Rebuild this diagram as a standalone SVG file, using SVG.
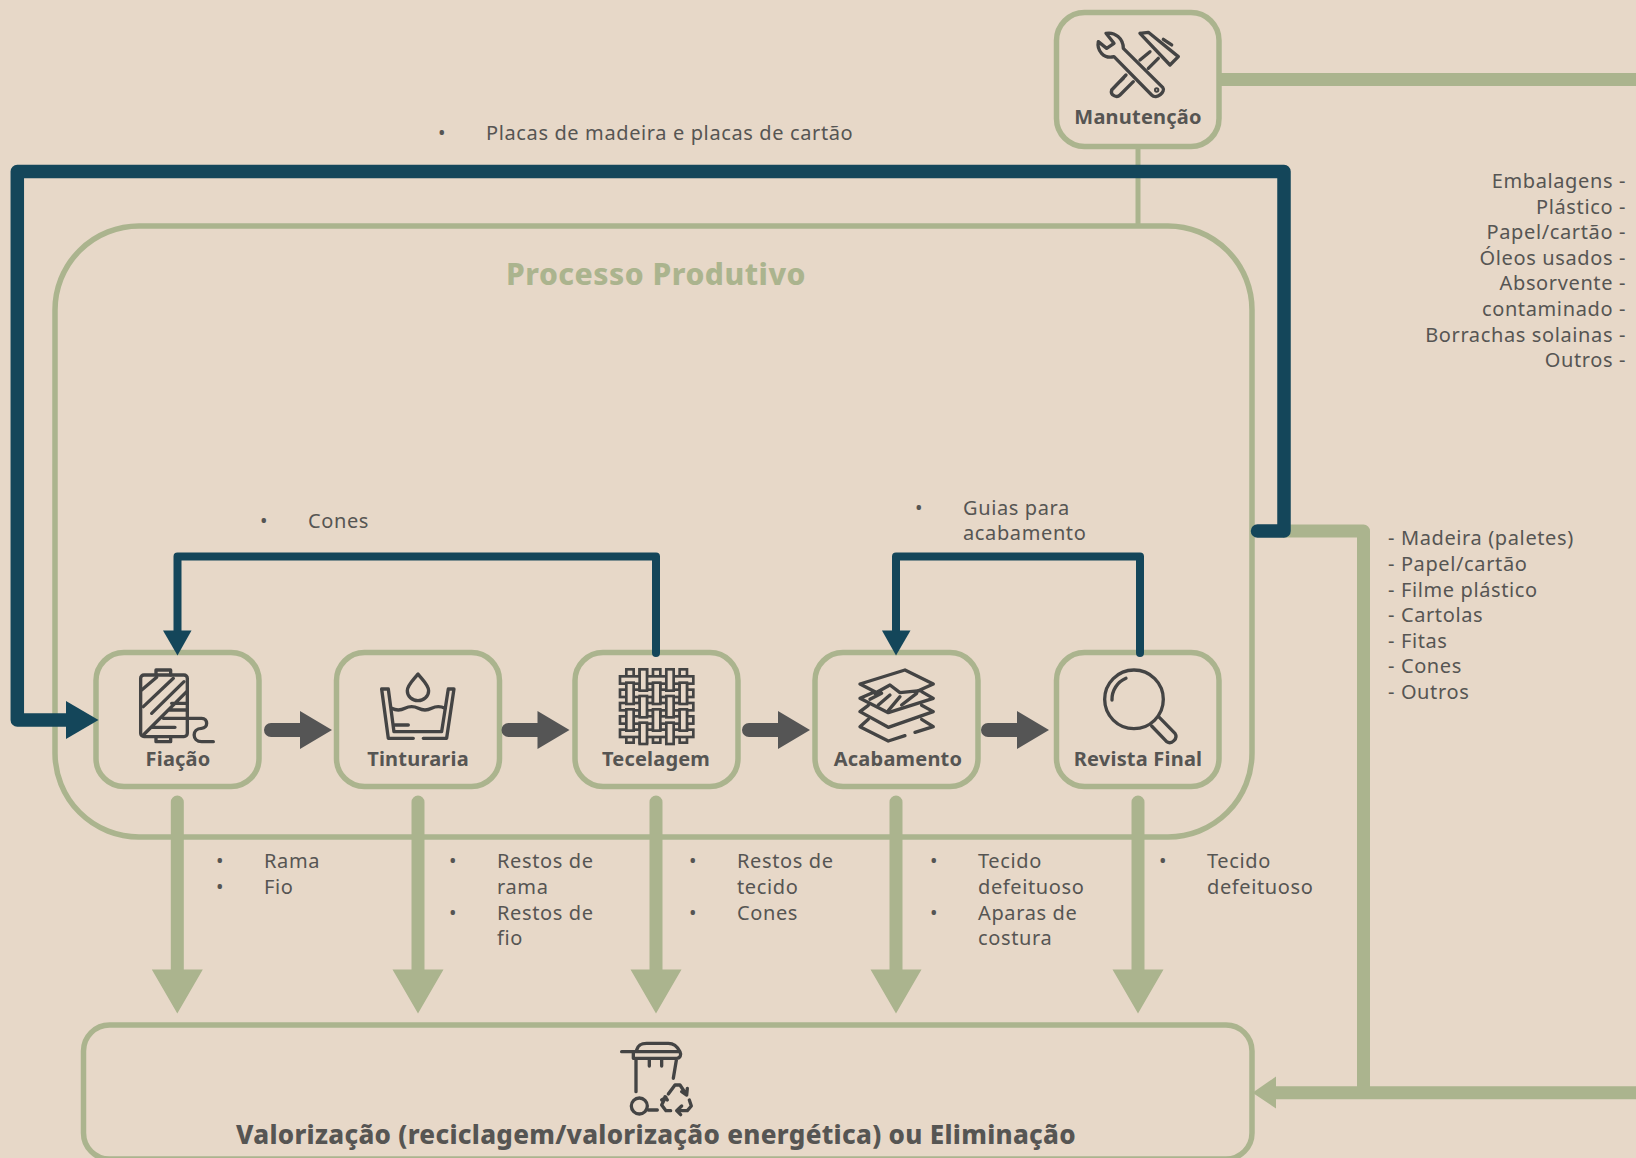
<svg xmlns="http://www.w3.org/2000/svg" width="1636" height="1158" viewBox="0 0 1636 1158">
<style>
text{font-family:"Noto Sans","Liberation Sans",sans-serif;fill:#565553}
.t{font-size:20px;letter-spacing:.62px}
.r{text-anchor:end}
.n{font-size:20px;font-weight:700;text-anchor:middle;letter-spacing:.2px}
.box{fill:none;stroke:#abb48e;stroke-width:5.5}
.i{fill:none;stroke:#444;stroke-width:10;stroke-linecap:round;stroke-linejoin:round}
.w{fill:#e7d8c8;stroke:#444;stroke-width:8}
.g{fill:none;stroke:#abb48e;stroke-linejoin:round}
.d{fill:none;stroke:#14465a;stroke-linejoin:round;stroke-linecap:round}
.gf{fill:#abb48e}.df{fill:#14465a}.kf{fill:#555}
</style>
<defs>
<path id="dn" class="gf" d="M-6.500,802a6.500,6.500 0 0 1 13,0V969.500H25.500L0,1013.500L-25.500,969.500H-6.500Z"/>
<g id="ga"><path class="kf" d="M6,-7H35V-19L67,0L35,19V7H6A7,7 0 0 1 6,-7Z"/></g>
<rect id="vb" class="w" x="-11" y="-32" width="22" height="64"/>
</defs>
<rect width="1636" height="1158" fill="#e7d8c8"/>

<g id="processo">
<rect class="box" x="55" y="226" width="1197" height="611" rx="84"/>
<text x="656" y="285" text-anchor="middle" font-size="30" font-weight="800" letter-spacing=".5" style="fill:#abb48e">Processo Produtivo</text>
</g>

<g id="manutencao">
<rect class="box" x="1056.500" y="12.500" width="162.500" height="134" rx="28"/>
<g transform="translate(1040,0) scale(.3333)">
<path class="i" d="M198,100C225,95 250,115 250,145L368,262C378,275 350,300 335,285L222,170C190,178 170,150 175,125L200,145L222,130Z"/>
<circle cx="350" cy="270" r="3" class="i"/>
<path class="i" d="M300,100L325,97L415,170L390,195L300,100M370,118L395,135M330,155L300,180M355,175L325,205M258,225L215,270C210,285 230,295 240,285L280,245M250,235L240,245"/>
</g>
<text class="n" x="1138" y="124">Manutenção</text>
</g>

<g id="fiacao">
<rect class="box" x="96" y="652.500" width="163" height="134" rx="28"/>
<g transform="translate(80,640) scale(.3333)">
<rect class="i" x="182" y="105" width="140" height="185" rx="10"/>
<path class="i" d="M228,105V90H272V105M228,290V305H272V290M185,150L230,112M190,200L280,115M215,220L312,125M190,285L320,155M275,190H320M265,210H320M250,235H365C385,235 385,265 365,265C335,265 335,305 365,305H400M220,262H285"/>
</g>
<text class="n" x="178" y="766">Fiação</text>
</g>

<g id="tinturaria">
<rect class="box" x="336.500" y="652.500" width="163" height="134" rx="28"/>
<g transform="translate(80,640) scale(.3333)">
<path class="i" d="M1000,295H925L905,147H925L942,275H1085L1105,147H1122L1100,295H1030M945,255H985"/>
<path class="i" d="M935,205Q955,215 975,205T1015,205T1055,205T1095,205"/>
<path class="i" d="M1014,102C1000,120 982,135 982,152A32,30 0 0 0 1046,152C1046,135 1028,120 1014,102Z"/>
</g>
<text class="n" x="418" y="766">Tinturaria</text>
</g>

<g id="tecelagem">
<rect class="box" x="575" y="652.500" width="163" height="134" rx="28"/>
<g transform="translate(560,640) scale(.3333)">
<rect class="w" x="199" y="88" width="22" height="220"/><rect class="w" x="239" y="88" width="22" height="220"/><rect class="w" x="279" y="88" width="22" height="220"/><rect class="w" x="319" y="88" width="22" height="220"/><rect class="w" x="359" y="88" width="22" height="220"/>
<rect class="w" x="180" y="109" width="220" height="22"/><rect class="w" x="180" y="149" width="220" height="22"/><rect class="w" x="180" y="189" width="220" height="22"/><rect class="w" x="180" y="229" width="220" height="22"/><rect class="w" x="180" y="269" width="220" height="22"/>
<use href="#vb" x="250" y="120"/><use href="#vb" x="330" y="120"/>
<use href="#vb" x="210" y="160"/><use href="#vb" x="290" y="160"/><use href="#vb" x="370" y="160"/>
<use href="#vb" x="250" y="200"/><use href="#vb" x="330" y="200"/>
<use href="#vb" x="210" y="240"/><use href="#vb" x="290" y="240"/><use href="#vb" x="370" y="240"/>
<use href="#vb" x="250" y="280"/><use href="#vb" x="330" y="280"/>
</g>
<text class="n" x="656" y="766">Tecelagem</text>
</g>

<g id="acabamento">
<rect class="box" x="815" y="652.500" width="163" height="134" rx="28"/>
<g transform="translate(560,640) scale(.3333)">
<path class="i" d="M945,155L900,132L1035,90L1120,132L1075,152M945,155L900,175L985,218L1120,175L1085,155M925,196L900,215L985,262L1120,215L1085,196M925,238L900,260L985,303L1035,287M1065,277L1120,260L1085,238"/>
<path class="i" d="M945,160L990,135L1020,158L1080,152M930,178L965,160M955,195L990,165M985,212L1020,170M1025,195L1070,160"/>
</g>
<text class="n" x="898" y="766">Acabamento</text>
</g>

<g id="revista">
<rect class="box" x="1056.500" y="652.500" width="162.500" height="134" rx="28"/>
<g transform="translate(1040,640) scale(.3333)">
<circle class="i" cx="282" cy="178" r="88"/>
<path class="i" d="M216,180A68,68 0 0 1 258,115M358,232L405,280C415,295 395,315 380,305L335,258"/>
</g>
<text class="n" x="1138" y="766">Revista Final</text>
</g>

<g id="valorizacao">
<rect class="box" x="83.500" y="1025" width="1168.500" height="134" rx="26"/>
<g transform="translate(580,1020) scale(.3333)">
<path class="i" d="M125,95H300C305,105 300,115 290,115H160V95M170,90C175,70 190,70 200,70H265C285,70 295,85 300,95M168,120V215M290,115L280,175M208,120V138M245,120V138M205,270H232"/>
<circle class="i" cx="178" cy="258" r="24"/>
<path class="i" d="M265,222L285,195H300L320,225M305,215L320,225L322,205M255,235L245,255L258,272H272M245,240L258,232M262,240L255,230M328,240L334,258L322,272H292M305,258L290,272L302,284"/>
</g>
<text x="656" y="1144" text-anchor="middle" font-size="26" font-weight="800" letter-spacing=".3">Valorização (reciclagem/valorização energética) ou Eliminação</text>
</g>

<g id="connectors">
<path class="g" stroke-width="13" d="M1221,79.500H1636"/>
<path class="g" stroke-width="5" d="M1138,148V225"/>
<path class="g" stroke-width="13" d="M1283,531H1363.500V1093"/>
<path class="g" stroke-width="13" d="M1636,1092.700H1270"/>
<path class="gf" d="M1252.500,1092.700L1276,1076.500V1108.500Z"/>
<use href="#dn" x="177.300"/><use href="#dn" x="418"/><use href="#dn" x="656"/><use href="#dn" x="896"/><use href="#dn" x="1138"/>
<use href="#ga" x="265" y="730"/><use href="#ga" x="502.500" y="730"/><use href="#ga" x="743" y="730"/><use href="#ga" x="982" y="730"/>
<path class="d" stroke-width="13.500" d="M1257.500,531H1284V171.500H17.300V720H70"/>
<path class="df" d="M98.500,720L66,701V739Z"/>
<path class="d" stroke-width="8" d="M656,653V556.500H177.500V635"/>
<path class="df" d="M177.500,655.500L163,630.500H191.500Z"/>
<path class="d" stroke-width="8" d="M1140,653V556.500H896V635"/>
<path class="df" d="M896,655.500L882,630.500H910.500Z"/>
</g>

<g id="labels">
<text class="t" x="438" y="140">•</text><text class="t" x="486" y="140">Placas de madeira e placas de cartão</text>
<g class="t r">
<text x="1626" y="188">Embalagens -</text><text x="1626" y="214">Plástico -</text><text x="1626" y="239">Papel/cartão -</text><text x="1626" y="265">Óleos usados -</text><text x="1626" y="290">Absorvente -</text><text x="1626" y="316">contaminado -</text><text x="1626" y="342">Borrachas solainas -</text><text x="1626" y="367">Outros -</text>
</g>
<g class="t">
<text x="1388" y="545">- Madeira (paletes)</text><text x="1388" y="571">- Papel/cartão</text><text x="1388" y="597">- Filme plástico</text><text x="1388" y="622">- Cartolas</text><text x="1388" y="648">- Fitas</text><text x="1388" y="673">- Cones</text><text x="1388" y="699">- Outros</text>
<text x="260" y="528">•</text><text x="308" y="528">Cones</text>
<text x="915" y="515">•</text><text x="963" y="515">Guias para</text><text x="963" y="540">acabamento</text>
<text x="216" y="868">•</text><text x="264" y="868">Rama</text><text x="216" y="894">•</text><text x="264" y="894">Fio</text>
<text x="449" y="868">•</text><text x="497" y="868">Restos de</text><text x="497" y="894">rama</text><text x="449" y="920">•</text><text x="497" y="920">Restos de</text><text x="497" y="945">fio</text>
<text x="689" y="868">•</text><text x="737" y="868">Restos de</text><text x="737" y="894">tecido</text><text x="689" y="920">•</text><text x="737" y="920">Cones</text>
<text x="930" y="868">•</text><text x="978" y="868">Tecido</text><text x="978" y="894">defeituoso</text><text x="930" y="920">•</text><text x="978" y="920">Aparas de</text><text x="978" y="945">costura</text>
<text x="1159" y="868">•</text><text x="1207" y="868">Tecido</text><text x="1207" y="894">defeituoso</text>
</g>
</g>
</svg>
